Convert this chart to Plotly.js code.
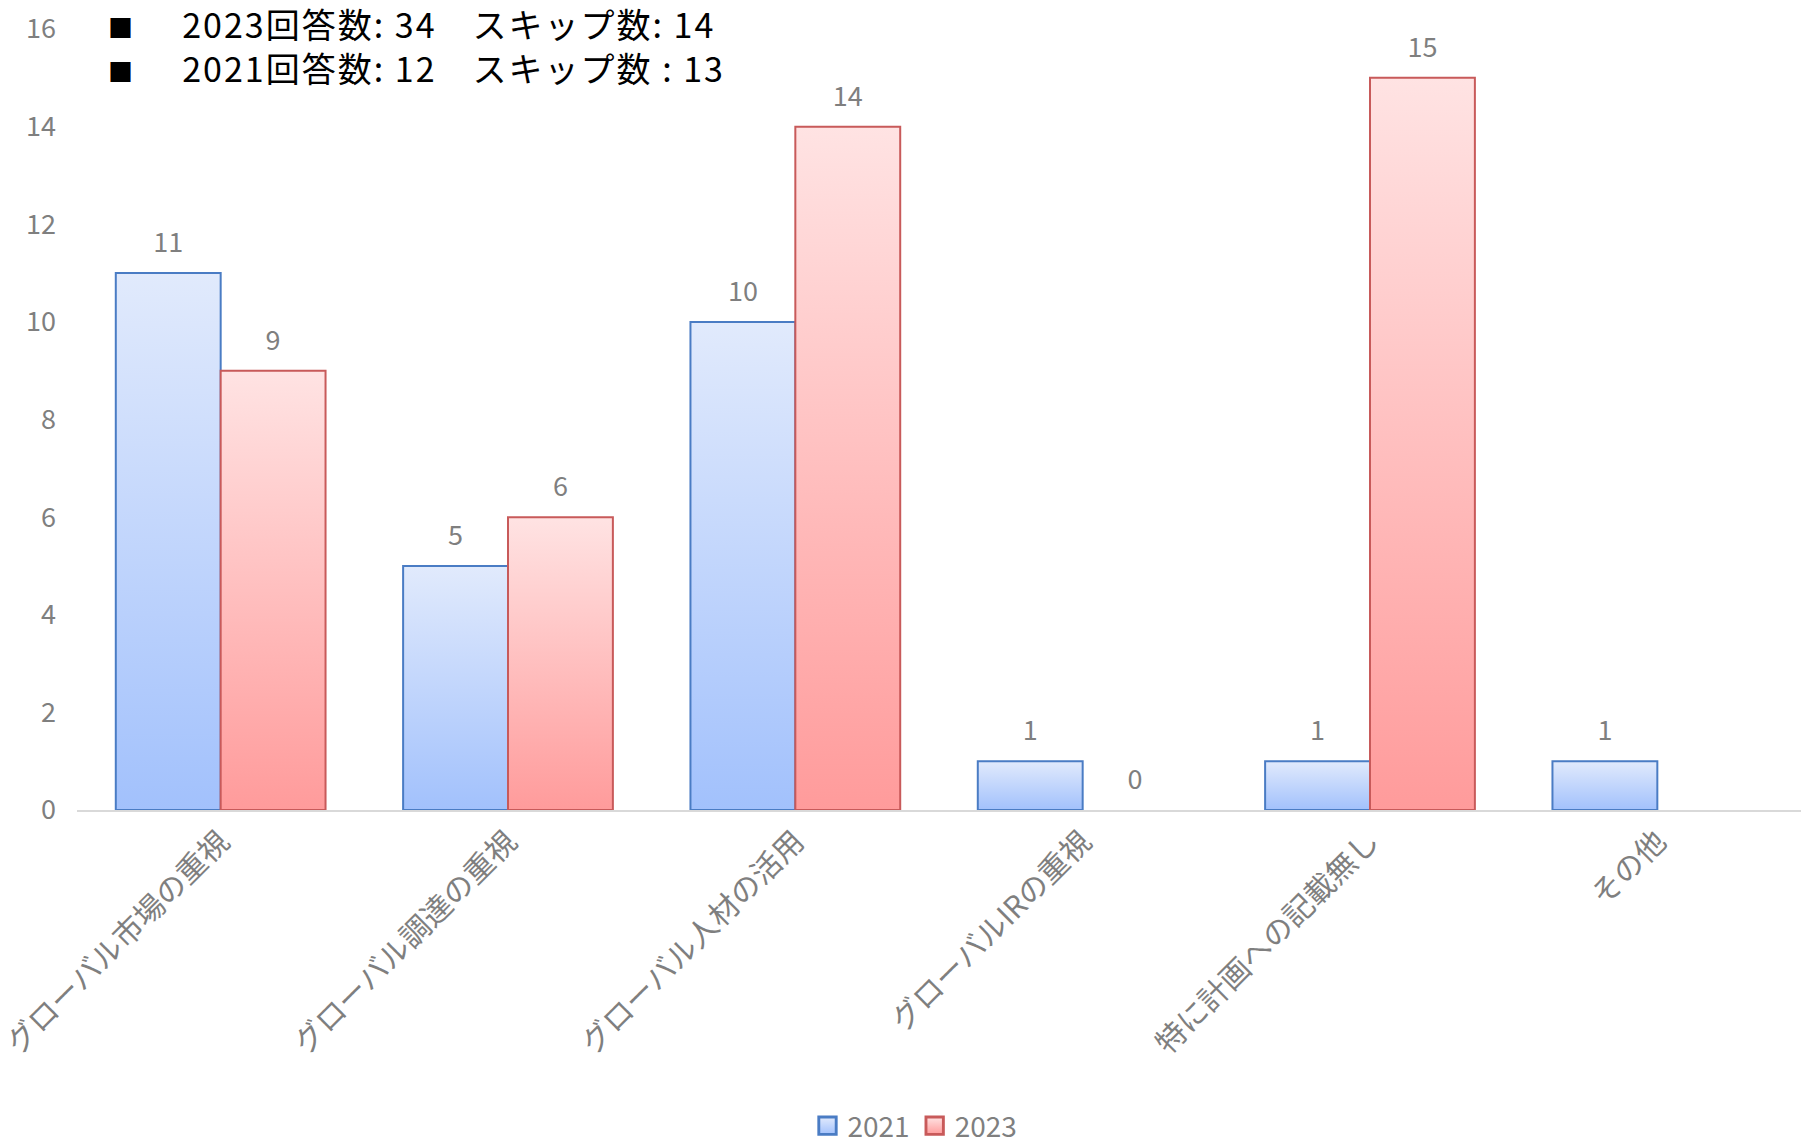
<!DOCTYPE html>
<html>
<head>
<meta charset="utf-8">
<script src="https://cdn.plot.ly/plotly-3.0.1.min.js"></script>
<style>
  html, body { margin: 0; padding: 0; background: #ffffff; overflow: hidden; }
  #chart { width: 1807px; height: 1146px; }
</style>
</head>
<body>
<div id="chart"></div>
<script>
const categories = ["グローバル市場の重視", "グローバル調達の重視", "グローバル人材の活用", "グローバルIRの重視", "特に計画への記載無し", "その他"];
const values2021 = [11, 5, 10, 1, 1, 1];
const values2023 = [9, 6, 14, 0, 15, null];
const seriesNames = ["2021", "2023"];
const noteLines = ["2023回答数: 34　スキップ数: 14", "2021回答数: 12　スキップ数 : 13"];
const yTicks = [0, 2, 4, 6, 8, 10, 12, 14, 16];

const FONT = '"Noto Sans CJK JP", "Noto Sans", sans-serif';
const GRAY = '#7f7f7f';

const traces = [
  {
    type: 'bar', name: seriesNames[0], x: categories, y: values2021,
    marker: { color: '#c3d6fb', line: { color: '#4a7cc4', width: values2021.map(v => v ? 2 : 0) } },
    text: values2021.map(v => v === null ? '' : String(v)),
    textposition: 'outside', cliponaxis: false,
    textfont: { family: FONT, size: 27, color: GRAY },
    hoverinfo: 'none'
  },
  {
    type: 'bar', name: seriesNames[1], x: categories, y: values2023,
    marker: { color: '#ffc0c0', line: { color: '#c85a5a', width: values2023.map(v => v ? 2 : 0) } },
    text: values2023.map(v => v === null ? '' : String(v)),
    textposition: 'outside', cliponaxis: false,
    textfont: { family: FONT, size: 27, color: GRAY },
    hoverinfo: 'none'
  }
];

const L = 77, T = 29, R = 6, B = 336;
const plotH = 1146 - T - B, plotW = 1807 - L - R;
const py = px => (1146 - B - px) / plotH;
const pxX = px => (px - L) / plotW;

const NOTE_SIZE = 34;
const annotations = [
  { xref: 'paper', yref: 'paper', x: pxX(107), y: py(45), xanchor: 'left', yanchor: 'middle', align: 'left',
    text: noteLines.map(t => '<span style="font-size:25px">■</span>　  <span style="letter-spacing:2px">' + t + '</span>').join('<br>'),
    showarrow: false, borderpad: 0,
    font: { family: FONT, size: NOTE_SIZE, color: '#000000' } }
];

const layout = {
  width: 1807, height: 1146,
  margin: { l: L, r: R, t: T, b: B },
  paper_bgcolor: '#ffffff', plot_bgcolor: '#ffffff',
  barmode: 'group', bargap: 0.27, bargroupgap: 0,
  font: { family: FONT, color: GRAY },
  showlegend: true,
  legend: { orientation: 'h', xref: 'container', x: 915 / 1807, xanchor: 'center',
    yref: 'container', y: (1146 - 1126) / 1146, yanchor: 'middle',
    font: { family: FONT, size: 28, color: GRAY }, itemwidth: 30, traceorder: 'normal' },
  xaxis: {
    type: 'category', tickangle: -45, showgrid: false, zeroline: false,
    showline: true, linecolor: '#d9d9d9', linewidth: 2, ticks: '',
    tickfont: { family: FONT, size: 30, color: GRAY }, automargin: false
  },
  yaxis: {
    range: [0, 16], tickvals: yTicks, ticktext: yTicks.map(String),
    showgrid: false, zeroline: false, showline: false, ticks: '',
    ticklabelstandoff: 20,
    tickfont: { family: FONT, size: 27, color: GRAY }, automargin: false
  },
  annotations: annotations
};

Plotly.newPlot('chart', traces, layout, { displayModeBar: false, staticPlot: true }).then(gd => {
  const svg = gd.querySelector('svg.main-svg');
  const ns = 'http://www.w3.org/2000/svg';
  let defs = svg.querySelector('defs');
  if (!defs) { defs = document.createElementNS(ns, 'defs'); svg.insertBefore(defs, svg.firstChild); }
  function addGrad(id, top, bottom) {
    const g = document.createElementNS(ns, 'linearGradient');
    g.setAttribute('id', id);
    g.setAttribute('x1', '0'); g.setAttribute('y1', '0');
    g.setAttribute('x2', '0'); g.setAttribute('y2', '1');
    [[0, top], [1, bottom]].forEach(([o, c]) => {
      const s = document.createElementNS(ns, 'stop');
      s.setAttribute('offset', o); s.setAttribute('stop-color', c);
      g.appendChild(s);
    });
    defs.appendChild(g);
  }
  addGrad('gradBlue', '#e1eafc', '#a2c1fc');
  addGrad('gradRed', '#ffe3e3', '#ff9b9b');
  const grads = ['url(#gradBlue)', 'url(#gradRed)'];
  gd.querySelectorAll('.barlayer .trace.bars').forEach((tr, i) => {
    tr.querySelectorAll('.point path').forEach(p => { p.style.fill = grads[i]; });
    tr.querySelectorAll('.point text').forEach(t => {
      const prev = t.getAttribute('transform') || '';
      t.setAttribute('transform', 'translate(0,-10) ' + prev);
    });
  });
  gd.querySelectorAll('.legend .traces').forEach((tr, i) => {
    tr.querySelectorAll('.legendpoints path').forEach(p => {
      p.style.fill = grads[i];
      const prev = p.getAttribute('transform') || '';
      p.setAttribute('transform', prev + ' scale(1.45)');
    });
  });
});
</script>
</body>
</html>
